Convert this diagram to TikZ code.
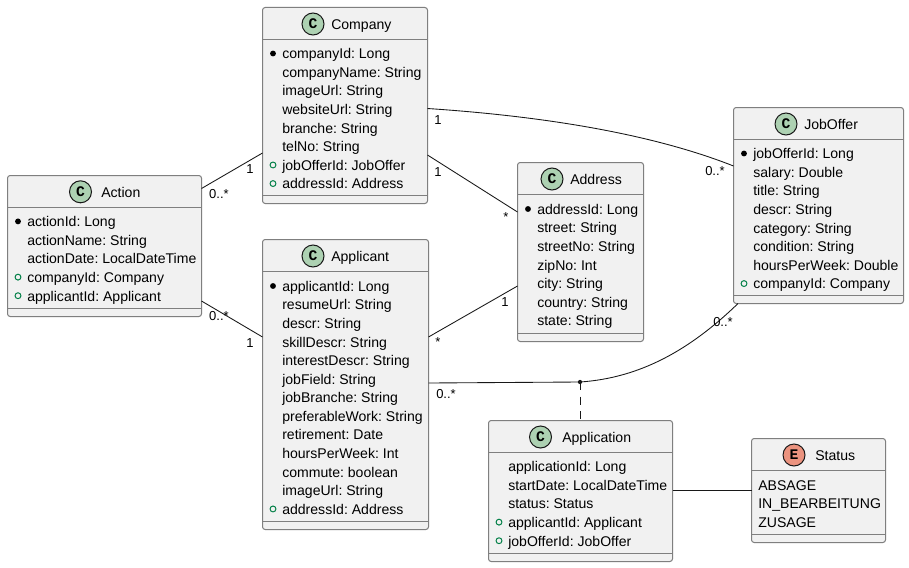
\documentclass[tikz,border=0pt]{standalone}
\usepackage{fontspec}
\setmainfont{Liberation Sans}
\usetikzlibrary{calc}
\definecolor{boxfill}{HTML}{F1F1F1}
\definecolor{boxline}{HTML}{7F7F7F}
\definecolor{cfill}{HTML}{ADD1B2}
\definecolor{efill}{HTML}{EB937F}
\definecolor{ink}{HTML}{181818}
\definecolor{pubgreen}{HTML}{038048}
\tikzset{
  x=0.75pt,y=-0.75pt,
  umlbox/.style={draw=boxline,fill=boxfill,line width=0.75pt,rounded corners=2pt,inner sep=0pt,outer sep=0pt},
  sepline/.style={draw=boxline,line width=0.75pt},
  icon/.style={circle,draw=ink,line width=0.75pt,minimum size=16.5pt,inner sep=0pt,font=\fontspec{Liberation Mono}\bfseries\fontsize{11}{11}\selectfont},
  title/.style={anchor=base west,inner sep=0pt,font=\fontsize{10.55}{12}\selectfont\frenchspacing},
  member/.style={anchor=base west,inner sep=0pt,font=\fontsize{10.55}{12}\selectfont\frenchspacing,text=black},
  conn/.style={draw=ink,line width=0.65pt},
  mult/.style={inner sep=0pt,font=\fontsize{9.75}{11}\selectfont,text=black},
}
% name, left, top, right, bottom, header y, separator y, icon x, icon y, icon letter, icon fill, title x, title
\newcommand{\umlclass}[9]{%
  \pgfmathsetmacro{\bw}{(#4-#2)*0.75}%
  \pgfmathsetmacro{\bh}{(#5-#3)*0.75}%
  \node[umlbox,minimum width=\bw pt,minimum height=\bh pt] (#1) at ({(#2+#4)/2},{(#3+#5)/2}) {};
  \draw[sepline] (#1.west |- 0,#6) -- (#1.east |- 0,#6);
  \draw[sepline] (#1.west |- 0,#7) -- (#1.east |- 0,#7);
  \def\boxname{#1}\def\icx{#8}\def\icy{#9}\umlclassb}
\newcommand{\umlclassb}[4]{%
  \node[icon,fill=#2] (\boxname-icon) at (\icx,\icy) {#1};
  \node[title] (\boxname-title) at (#3,\icy+5.4) {#4};
}
% box name, text x, first row centre y, list
\newcommand{\members}[4]{%
  \foreach \k/\t [count=\i from 0] in {#4} {
    \pgfmathsetmacro{\ry}{#3+18.58*\i+5.3}
    \node[member] (#1-m\i) at (#2,\ry) {\t};
    \if\k b
      \fill[black] (#2-9,\ry-5.3) circle (2.2pt);
    \fi
    \if\k o
      \draw[pubgreen,line width=0.75pt] (#2-9,\ry-5.3) circle (2.2pt);
    \fi
  }
}
\begin{document}
\begin{tikzpicture}
\useasboundingbox[fill=white] (0,0) rectangle (909,567);

\umlclass{action}{7.5}{175.5}{201.5}{316.5}{207.5}{308.5}{80.5}{191.8}{C}{cfill}{101}{Action}
\members{action}{27}{221.4}{b/{actionId: Long},n/{actionName: String},n/{actionDate: LocalDateTime},o/{companyId: Company},o/{applicantId: Applicant}}

\umlclass{company}{262.5}{7.5}{427.5}{203.5}{39.5}{195.5}{313}{24}{C}{cfill}{331}{Company}
\members{company}{282}{53.5}{b/{companyId: Long},n/{companyName: String},n/{imageUrl: String},n/{websiteUrl: String},n/{branche: String},n/{telNo: String},o/{jobOfferId: JobOffer},o/{addressId: Address}}

\umlclass{applicant}{262.5}{239.5}{428.5}{529.5}{271.5}{521.5}{313}{256}{C}{cfill}{331}{Applicant}
\members{applicant}{282}{286}{b/{applicantId: Long},n/{resumeUrl: String},n/{descr: String},n/{skillDescr: String},n/{interestDescr: String},n/{jobField: String},n/{jobBranche: String},n/{preferableWork: String},n/{retirement: Date},n/{hoursPerWeek: Int},n/{commute: boolean},n/{imageUrl: String},o/{addressId: Address}}

\umlclass{address}{517.5}{162.5}{643.5}{341.5}{194.5}{333.5}{552}{179}{C}{cfill}{570}{Address}
\members{address}{537}{209}{b/{addressId: Long},n/{street: String},n/{streetNo: String},n/{zipNo: Int},n/{city: String},n/{country: String},n/{state: String}}

\umlclass{joboffer}{733.5}{107.5}{903.5}{303.5}{139.5}{295.5}{786}{124}{C}{cfill}{804}{JobOffer}
\members{joboffer}{753}{153.5}{b/{jobOfferId: Long},n/{salary: Double},n/{title: String},n/{descr: String},n/{category: String},n/{condition: String},n/{hoursPerWeek: Double},o/{companyId: Company}}

\umlclass{application}{488.5}{420.5}{672.5}{561.5}{452.5}{553.5}{540.5}{437}{C}{cfill}{562}{Application}
\members{application}{508}{466.4}{n/{applicationId: Long},n/{startDate: LocalDateTime},n/{status: Status},o/{applicantId: Applicant},o/{jobOfferId: JobOffer}}

\umlclass{status}{751.5}{438.5}{885.5}{542.5}{470.5}{534.5}{794}{455}{E}{efill}{815}{Status}
\members{status}{758}{485}{n/{ABSAGE},n/{IN\textunderscore BEARBEITUNG},n/{ZUSAGE}}

% connectors
\draw[conn] (action.east |- 0,188.5) -- (company.west |- 0,153);
\draw[conn] (action.east |- 0,301) -- (applicant.west |- 0,337);
\draw[conn] (company.east |- 0,108.5) .. controls (540,116) and (650,133) .. (joboffer.west |- 0,166);
\draw[conn] (company.east |- 0,155) -- (address.west |- 0,212);
\draw[conn] (applicant.east |- 0,337) -- (address.west |- 0,286);
\coordinate (assoc) at (580,382);
\draw[conn] (applicant.east |- 0,383) -- (assoc) .. controls (640,378) and (690,350) .. (joboffer.south west -| 738,303.5);
\fill[ink] (assoc) circle (1.6pt);
\draw[conn,dash pattern=on 6pt off 5pt] (assoc) -- (application.north -| assoc);
\draw[conn] (application.east |- 0,490) -- (status.west |- 0,490);

% multiplicities
\node[mult] (l1) at (250,169) {1};
\node[mult] (l2) at (219,194) {0..*};
\node[mult] (l3) at (219,316) {0..*};
\node[mult] (l4) at (250,343) {1};
\node[mult] (l5) at (438,120) {1};
\node[mult] (l6) at (715,171) {0..*};
\node[mult] (l7) at (438,172) {1};
\node[mult] (l8) at (506,217) {*};
\node[mult] (l9) at (438,342) {*};
\node[mult] (l10) at (505,302) {1};
\node[mult] (l11) at (446,394) {0..*};
\node[mult] (l12) at (723,322) {0..*};
\end{tikzpicture}
\end{document}
